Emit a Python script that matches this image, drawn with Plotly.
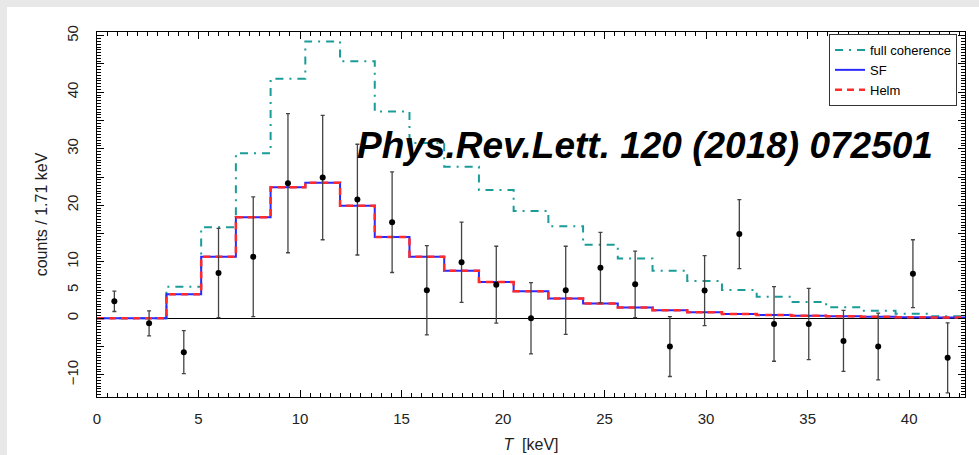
import plotly.graph_objects as go

# Recoil energy binning
bin_width = 1.71
n_bins = 25

# Expected spectra per bin (counts / 1.71 keV)
full_coherence = [0, 0, 5.6, 16.1, 29.2, 42.4, 49.0, 45.5, 36.6, 31.0, 26.8, 22.7, 19.0,
                  16.3, 13.0, 10.6, 8.4, 6.6, 5.0, 3.8, 2.9, 1.95, 1.35, 0.8, 0.35]
sf_model = [0, 0, 4.25, 10.9, 17.9, 23.2, 24.0, 19.9, 14.4, 10.9, 8.4, 6.4, 4.8,
            3.5, 2.6, 1.9, 1.4, 1.05, 0.75, 0.58, 0.46, 0.35, 0.27, 0.2, 0.15]
helm_model = [0, 0, 4.25, 10.9, 17.9, 23.2, 24.0, 19.9, 14.4, 10.9, 8.4, 6.4, 4.8,
              3.5, 2.6, 1.9, 1.4, 1.05, 0.75, 0.58, 0.46, 0.35, 0.27, 0.2, 0.15]

# Measured counts with symmetric uncertainties
measured = [3.0, -0.9, -6.0, 8.0, 10.9, 23.9, 24.9, 21.0, 17.0, 4.95, 9.9, 5.95, 0.0,
            4.95, 8.95, 6.0, -5.0, 4.9, 14.9, -1.0, -1.0, -4.0, -5.0, 7.9, -7.0]
measured_err = [1.8, 2.2, 3.8, 7.9, 10.6, 12.3, 11.0, 9.8, 8.9, 7.9, 7.1, 6.8, 6.3,
                7.8, 6.25, 5.9, 5.3, 6.2, 6.1, 6.6, 6.3, 5.4, 5.9, 6.0, 6.2]

# Axis ticks
x_tickvals = [0, 5, 10, 15, 20, 25, 30, 35, 40]
x_ticktext = ["0", "5", "10", "15", "20", "25", "30", "35", "40"]
y_tickvals = [-10, -5, 0, 5, 10, 15, 20, 25, 30, 35, 40, 45, 50]
y_ticktext = ["\u221210", "", "0", "5", "10", "", "20", "", "30", "", "40", "", "50"]

edges = [i * bin_width for i in range(n_bins + 1)]
centers = [e + bin_width / 2 for e in edges[:-1]]


def step(vals):
    return list(vals) + [vals[-1]]


FONT = "Liberation Sans, Arial, sans-serif"
TEAL = "#1a9c97"

fig = go.Figure()

fig.add_trace(go.Scatter(
    x=edges, y=step(full_coherence), mode="lines", line_shape="hv",
    name="full coherence",
    line=dict(color=TEAL, width=2, dash="8px,6px,2px,6px"),
))
fig.add_trace(go.Scatter(
    x=edges, y=step(sf_model), mode="lines", line_shape="hv",
    name="SF", line=dict(color="#2a2aff", width=2),
))
fig.add_trace(go.Scatter(
    x=edges, y=step(helm_model), mode="lines", line_shape="hv",
    name="Helm", line=dict(color="#ff2a2a", width=2.5, dash="7px,5px"),
))
fig.add_trace(go.Scatter(
    x=centers, y=measured, mode="markers", showlegend=False,
    marker=dict(color="black", size=6),
    error_y=dict(type="data", array=measured_err, color="#444444",
                 thickness=1.3, width=2),
))

# Light grey strips along the top and left edges of the page
W, H = 979, 455
ml, mr, mt, mb = 97, 14, 32, 58
pw, ph = W - ml - mr, H - mt - mb


def px_x(p):
    return (p - ml) / pw


def px_y(p):
    return (H - mb - p) / ph


fig.add_shape(type="rect", xref="paper", yref="paper",
              x0=px_x(0), x1=px_x(W), y0=px_y(7), y1=px_y(0),
              fillcolor="#e8e8e8", line_width=0, layer="below")
fig.add_shape(type="rect", xref="paper", yref="paper",
              x0=px_x(0), x1=px_x(7), y0=px_y(H), y1=px_y(0),
              fillcolor="#e8e8e8", line_width=0, layer="below")

fig.add_annotation(
    text="Phys.Rev.Lett. 120 (2018) 072501",
    xref="paper", yref="paper", x=px_x(645), y=px_y(145),
    xanchor="center", yanchor="middle", showarrow=False,
    font=dict(family=FONT, size=37, color="black", weight="bold", style="italic"),
)

axis_common = dict(
    showline=True, linecolor="black", linewidth=1.3, mirror="ticks",
    ticks="inside", ticklen=7, tickwidth=1, tickcolor="black",
    showgrid=False,
    tickfont=dict(family=FONT, size=15, color="#222222"),
)

fig.update_xaxes(
    range=[0, n_bins * bin_width],
    tickmode="array", tickvals=x_tickvals, ticktext=x_ticktext,
    minor=dict(dtick=0.5, tick0=0, ticks="inside", ticklen=4,
               tickcolor="black", tickwidth=1),
    zeroline=False,
    ticklabelstandoff=8,
    title=dict(text="<i>T</i>  [keV]", font=dict(family=FONT, size=16, color="#222222"),
               standoff=12),
    **axis_common,
)
fig.update_yaxes(
    range=[-13.93, 50.66],
    tickmode="array", tickvals=y_tickvals, ticktext=y_ticktext, tickangle=-90,
    minor=dict(dtick=0.5, tick0=0, ticks="inside", ticklen=4,
               tickcolor="black", tickwidth=1),
    zeroline=True, zerolinecolor="black", zerolinewidth=1,
    ticklabelstandoff=12,
    title=dict(text="counts / 1.71 keV", font=dict(family=FONT, size=16, color="#222222"),
               standoff=12),
    **axis_common,
)

fig.update_layout(
    width=W, height=H,
    margin=dict(l=ml, r=mr, t=mt, b=mb, autoexpand=False),
    paper_bgcolor="white", plot_bgcolor="white",
    showlegend=True,
    legend=dict(
        x=px_x(957), y=px_y(34), xanchor="right", yanchor="top",
        bgcolor="white", bordercolor="#333333", borderwidth=1,
        font=dict(family=FONT, size=13, color="black"),
        tracegroupgap=0, itemwidth=30,
    ),
    font=dict(family=FONT),
)

fig.write_html("out.html")
